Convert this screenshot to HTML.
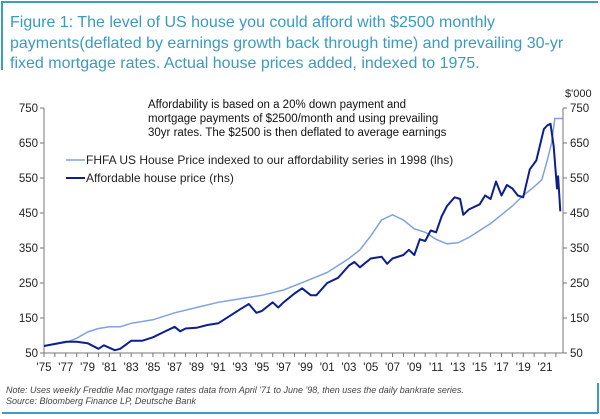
<!DOCTYPE html>
<html><head><meta charset="utf-8"><style>
body{margin:0;background:#fff;}
svg{display:block;font-family:"Liberation Sans",Arial,sans-serif;}
</style></head><body>
<svg width="600" height="419" viewBox="0 0 600 419">
<line x1="1" y1="2" x2="598" y2="2" stroke="#3d9cc4" stroke-width="2"/>
<line x1="2" y1="2" x2="2" y2="70" stroke="#3d9cc4" stroke-width="2"/>
<g fill="#3a9bc0" font-size="16">
<text x="10" y="27">Figure 1: The level of US house you could afford with $2500 monthly</text>
<text x="10" y="48">payments(deflated by earnings growth back through time) and prevailing 30-yr</text>
<text x="10" y="68">fixed mortgage rates. Actual house prices added, indexed to 1975.</text>
</g>
<g font-size="11.5" fill="#111">
<text x="148" y="108">Affordability is based on a 20% down payment and</text>
<text x="148" y="122">mortgage payments of $2500/month and using prevailing</text>
<text x="148" y="136">30yr rates. The $2500 is then deflated to average earnings</text>
</g>
<text x="565" y="97" font-size="11" fill="#222">$'000</text>
<g id="axes"></g>
<g id="series"></g>
<g>
<line x1="66" y1="160" x2="85" y2="160" stroke="#7fa2e0" stroke-width="1.5"/>
<text x="86" y="164" font-size="12" fill="#222">FHFA US House Price indexed to our affordability series in 1998 (lhs)</text>
<line x1="66" y1="178" x2="85" y2="178" stroke="#0d1f8c" stroke-width="2"/>
<text x="86" y="182" font-size="12" fill="#222">Affordable house price (rhs)</text>
</g>
<g font-size="9" font-style="italic" fill="#444">
<text x="6" y="393">Note: Uses weekly Freddie Mac mortgage rates data from April '71 to June '98, then uses the daily bankrate series.</text>
<text x="6" y="404">Source: Bloomberg Finance LP, Deutsche Bank</text>
</g>
<line x1="2" y1="413" x2="598" y2="413" stroke="#3d9cc4" stroke-width="2"/>
<line x1="598" y1="383" x2="598" y2="413" stroke="#3d9cc4" stroke-width="2"/>
</svg>
<script>
const yTicks=[50,150,250,350,450,550,650,750];
const xTickYears=[1975,1977,1979,1981,1983,1985,1987,1989,1991,1993,1995,1997,1999,2001,2003,2005,2007,2009,2011,2013,2015,2017,2019,2021];
const xTickLabels=["'75","'77","'79","'81","'83","'85","'87","'89","'91","'93","'95","'97","'99","'01","'03","'05","'07","'09","'11","'13","'15","'17","'19","'21"];
const fhfaYears=[1975,1977,1978,1979,1980,1981,1982,1983,1985,1987,1989,1991,1993,1995,1997,1999,2001,2003,2004,2005,2006,2007,2008,2009,2010,2011,2012,2013,2014,2015,2016,2017,2018,2019,2020,2020.7,2021.2,2021.6,2021.9,2022.6];
const fhfaValues=[70,80,92,110,120,125,125,135,145,165,180,195,205,215,230,255,280,320,345,385,430,445,430,405,395,375,362,365,380,400,420,445,470,500,525,545,600,650,720,720];
const affYears=[1975,1977,1978,1979,1980,1980.5,1981.5,1982,1983,1984,1985,1986,1987,1987.5,1988,1989,1990,1991,1992,1993,1993.8,1994.5,1995,1996,1996.5,1997,1998,1998.7,1999.5,2000,2001,2002,2003,2003.5,2004,2005,2006,2006.5,2007,2008,2008.5,2009,2009.5,2010,2010.5,2011,2011.5,2012,2012.7,2013.2,2013.5,2014,2015,2015.5,2016,2016.5,2017,2017.5,2018,2018.5,2019,2019.6,2020.2,2020.9,2021.2,2021.5,2021.8,2022.0,2022.1,2022.2,2022.4];
const affValues=[70,82,82,78,62,72,58,62,85,85,95,110,125,112,120,122,130,135,155,175,190,165,170,195,180,195,220,235,215,215,250,265,300,310,295,320,325,305,320,330,345,330,375,370,400,395,440,470,495,490,445,460,475,500,490,540,500,530,520,500,495,575,600,690,700,705,640,560,520,555,455];
const NS='http://www.w3.org/2000/svg';
const X0=44,X1=563,Y0=353,Y1=108,Ymin=50,Ymax=750,T0=1975,T1=2022.65;
function xs(t){return X0+(t-T0)/(T1-T0)*(X1-X0);}
function ys(v){return Y0-(v-Ymin)/(Ymax-Ymin)*(Y0-Y1);}
function mk(tag,attrs,parent){const e=document.createElementNS(NS,tag);for(const k in attrs)e.setAttribute(k,attrs[k]);parent.appendChild(e);return e;}
const ax=document.getElementById('axes');
let e=mk('line',{x1:X0,y1:Y1,x2:X0,y2:Y0,stroke:'#777','stroke-width':1},ax);


e=mk('line',{x1:X1,y1:Y1,x2:X1,y2:Y0,stroke:'#777','stroke-width':1},ax);


e=mk('line',{x1:X0,y1:Y0,x2:X1,y2:Y0,stroke:'#777','stroke-width':1},ax);


yTicks.forEach(v=>{
 const y=ys(v);
 mk('line',{x1:X0-4,y1:y,x2:X0,y2:y,stroke:'#777'},ax);
 mk('line',{x1:X1,y1:y,x2:X1+4,y2:y,stroke:'#777'},ax);
 let t=mk('text',{x:X0-6,y:y+4,'text-anchor':'end','font-size':11.5,fill:'#222'},ax);t.textContent=v;
 
 
 t=mk('text',{x:X1+7,y:y+4,'font-size':11.5,fill:'#222'},ax);t.textContent=v;
 
 
});
for(let yr=1975;yr<=2022;yr++){mk('line',{x1:xs(yr),y1:Y0,x2:xs(yr),y2:Y0+4,stroke:'#777'},ax);}
xTickYears.forEach((yr,i)=>{
 const t=mk('text',{x:xs(yr),y:Y0+18,'text-anchor':'middle','font-size':11.5,fill:'#222'},ax);t.textContent=xTickLabels[i];
 
 
});
const se=document.getElementById('series');
function path(xa,va){return xa.map((t,i)=>(i?'L':'M')+xs(t).toFixed(1)+','+ys(va[i]).toFixed(1)).join('');}
e=mk('path',{d:path(fhfaYears,fhfaValues),fill:'none',stroke:'#7fa2e0','stroke-width':1.5},se);


e=mk('path',{d:path(affYears,affValues),fill:'none',stroke:'#0d1f8c','stroke-width':2,'stroke-linejoin':'round'},se);


</script>
</body></html>
